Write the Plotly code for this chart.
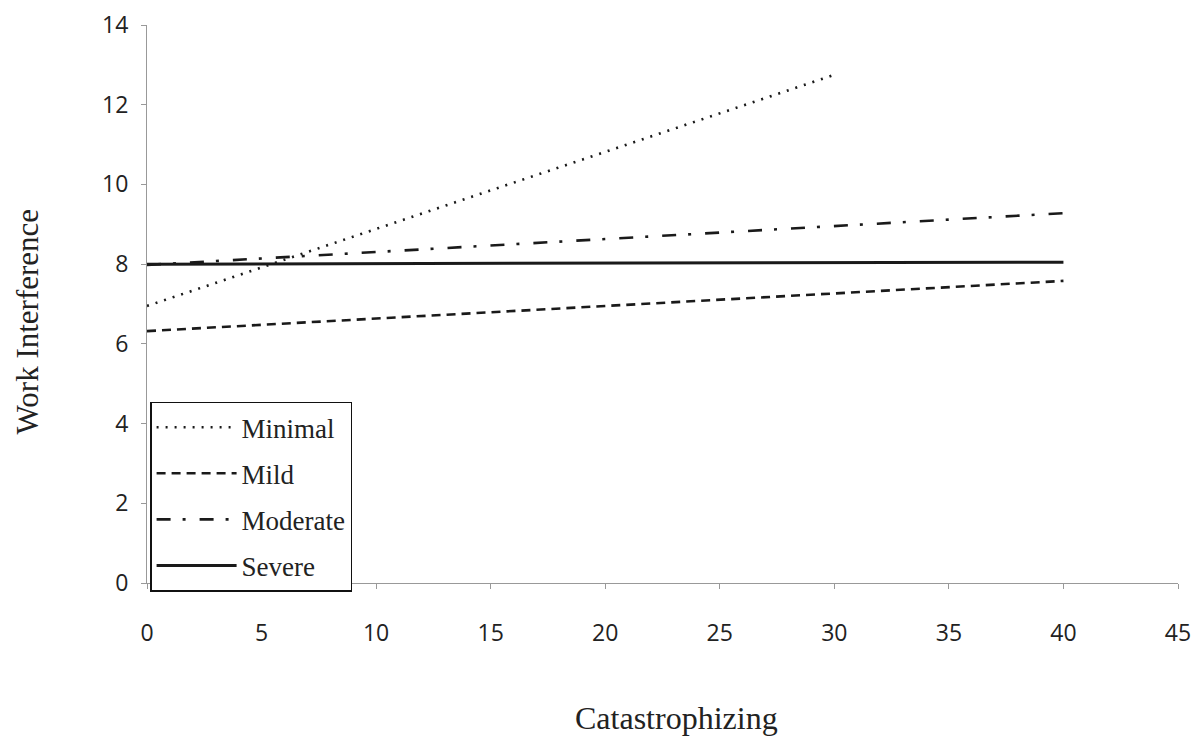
import plotly.graph_objects as go

series_names = ["Minimal", "Mild", "Moderate", "Severe"]
x_start = [0, 0, 0, 0]
x_end = [30, 40, 40, 40]
y_start = [6.95, 6.32, 7.98, 8.0]
y_end = [12.75, 7.58, 9.28, 8.05]
dashes = ["2px,7px", "9px,6px", "14px,12px,3px,14px", "solid"]

x_ticks = [0, 5, 10, 15, 20, 25, 30, 35, 40, 45]
y_ticks = [0, 2, 4, 6, 8, 10, 12, 14]

fig = go.Figure()
for i, name in enumerate(series_names):
    fig.add_trace(go.Scatter(
        x=[x_start[i], x_end[i]], y=[y_start[i], y_end[i]],
        mode="lines", name=name, legendgroup=name,
        line=dict(color="#1a1a1a", width=2.6 if name != "Severe" else 3, dash=dashes[i]),
    ))

tick_font = dict(family="Open Sans, Lato, sans-serif", size=23, color="#222")
serif = "Liberation Serif, Times New Roman, serif"

# page body has an 8px margin, so the plot area is offset accordingly
fig.update_layout(
    width=1201, height=742,
    margin=dict(l=139, r=31, t=17, b=167),
    paper_bgcolor="white", plot_bgcolor="white",
    showlegend=True,
    legend=dict(
        x=0.003, y=0.325, xanchor="left", yanchor="top",
        bgcolor="white", bordercolor="#111", borderwidth=1.5,
        font=dict(family=serif, size=27, color="#222"),
        itemwidth=80, tracegroupgap=8,
    ),
    xaxis=dict(
        range=[0, 45], tickvals=x_ticks, showgrid=False, zeroline=False,
        showline=True, linecolor="#999", linewidth=1,
        ticks="outside", ticklen=5, tickcolor="#999",
        tickfont=tick_font, ticklabelstandoff=24, automargin=False,
        ticklabeloverflow="allow",
    ),
    yaxis=dict(
        range=[0, 14], tickvals=y_ticks, showgrid=False, zeroline=False,
        showline=True, linecolor="#999", linewidth=1,
        ticks="outside", ticklen=5, tickcolor="#999",
        tickfont=tick_font, ticklabelstandoff=8, automargin=False,
        ticklabeloverflow="allow",
    ),
    annotations=[
        dict(text="Catastrophizing", x=0.514, y=-0.242, xref="paper", yref="paper",
             xanchor="center", yanchor="middle", showarrow=False,
             font=dict(family=serif, size=32, color="#222")),
        dict(text="Work Interference", x=-0.116, y=0.4695, xref="paper", yref="paper",
             xanchor="center", yanchor="middle", showarrow=False, textangle=-90,
             font=dict(family=serif, size=31, color="#222")),
    ],
)

fig.write_html("out.html")
